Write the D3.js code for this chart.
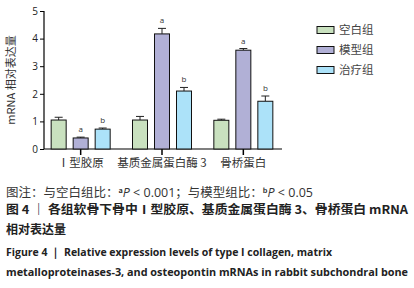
<!DOCTYPE html>
<html><head><meta charset="utf-8">
<script src="https://cdn.jsdelivr.net/npm/d3@7"></script>
<style>body{margin:0;background:#fff}svg{display:block}</style>
</head><body><svg id="c" width="414" height="288"></svg>
<script>
const categories = ["Ⅰ型胶原", "基质金属蛋白酶 3", "骨桥蛋白"];
const groups = ["空白组", "模型组", "治疗组"];
const means = [[1.05, 0.40, 0.72], [1.05, 4.17, 2.10], [1.04, 3.58, 1.73]];
const errs = [[0.10, 0.03, 0.04], [0.13, 0.20, 0.13], [0.04, 0.06, 0.19]];
const marks = [["", "a", "b"], ["", "a", "b"], ["", "a", "b"]];
const yTicks = [0, 1, 2, 3, 4, 5];
const colors = ["#c9e1bf", "#b1b0d6", "#ace2f9"];

const svg = d3.select("#c");
const x0 = d3.scaleBand().domain(categories).range([40, 284]).paddingInner(0.0).paddingOuter(0.0);
const y = d3.scaleLinear().domain([0, 5]).range([149, 11]);
const bw = 15, step = 22;
const CJK = "Noto Sans CJK SC, sans-serif";

const yAxis = svg.append("g").attr("transform", "translate(44,0)")
  .call(d3.axisLeft(y).tickValues(yTicks).tickSize(4).tickFormat(d3.format("d")));
yAxis.select(".domain").attr("stroke", "#000").attr("stroke-width", 1.2).attr("d", "M0,11V149");
yAxis.selectAll("text").attr("font-family", "Open Sans, sans-serif").attr("font-size", 10).attr("fill", "#222").attr("dx", 1);

// x axis
svg.append("line").attr("x1", 44).attr("x2", 282).attr("y1", 149).attr("y2", 149).attr("stroke", "#000").attr("stroke-width", 1.2);

categories.forEach((c, i) => {
  const cx = x0(c) + x0.bandwidth() / 2;
  svg.append("line").attr("x1", cx).attr("x2", cx).attr("y1", 149).attr("y2", 155).attr("stroke", "#000").attr("stroke-width", 1.5);
  svg.append("text").attr("x", cx).attr("y", 167).attr("text-anchor", "middle")
    .attr("font-family", CJK).attr("font-size", 11.5).attr("fill", "#333").text(c);
  groups.forEach((g, j) => {
    const bx = cx + (j - 1) * step - bw / 2;
    const v = means[i][j], e = errs[i][j];
    const mx = bx + bw / 2;
    svg.append("line").attr("x1", mx).attr("x2", mx).attr("y1", y(v)).attr("y2", y(v + e)).attr("stroke", "#222").attr("stroke-width", 1);
    svg.append("line").attr("x1", mx - 4).attr("x2", mx + 4).attr("y1", y(v + e)).attr("y2", y(v + e)).attr("stroke", "#222").attr("stroke-width", 1);
    svg.append("rect").attr("x", bx).attr("y", y(v)).attr("width", bw).attr("height", y(0) - y(v))
      .attr("fill", colors[j]).attr("stroke", "#111").attr("stroke-width", 1);
    if (marks[i][j]) {
      svg.append("text").attr("x", mx).attr("y", y(v + e) - 5).attr("text-anchor", "middle")
        .attr("font-family", "Open Sans, sans-serif").attr("font-size", 8).attr("fill", "#333").text(marks[i][j]);
    }
  });
});

// y label
svg.append("text").attr("transform", "translate(15,80) rotate(-90)").attr("text-anchor", "middle")
  .attr("font-family", CJK).attr("font-size", 11).attr("fill", "#333").text("mRNA 相对表达量");

// legend
groups.forEach((g, j) => {
  const ly = 30 + j * 20;
  svg.append("rect").attr("x", 317).attr("y", ly - 3.5).attr("width", 17).attr("height", 7)
    .attr("fill", colors[j]).attr("stroke", "#111").attr("stroke-width", 1);
  svg.append("text").attr("x", 339).attr("y", ly + 4).attr("font-family", CJK)
    .attr("font-size", 11.5).attr("fill", "#444").text(g);
});

// captions
const cap = svg.append("text").attr("x", 6).attr("y", 197).attr("font-family", CJK).attr("font-size", 12).attr("fill", "#333")
  .attr("textLength", 307).attr("lengthAdjust", "spacingAndGlyphs");
cap.append("tspan").text("图注：与空白组比：");
cap.append("tspan").attr("font-size", 7).attr("dy", -4).attr("font-weight", "bold").text("a");
cap.append("tspan").attr("dy", 4).attr("font-style", "italic").attr("font-family", "Open Sans, sans-serif").text("P");
cap.append("tspan").attr("font-family", "Open Sans, sans-serif").text(" < 0.001");
cap.append("tspan").text("；与模型组比：");
cap.append("tspan").attr("font-size", 7).attr("dy", -4).attr("font-weight", "bold").text("b");
cap.append("tspan").attr("dy", 4).attr("font-style", "italic").attr("font-family", "Open Sans, sans-serif").text("P");
cap.append("tspan").attr("font-family", "Open Sans, sans-serif").text("  < 0.05");

svg.append("text").attr("x", 6).attr("y", 214).attr("font-family", CJK).attr("font-size", 12).attr("font-weight", "bold").attr("fill", "#222")
  .attr("textLength", 402).attr("lengthAdjust", "spacingAndGlyphs").text("图 4 ｜  各组软骨下骨中Ⅰ型胶原、基质金属蛋白酶 3、骨桥蛋白 mRNA");
svg.append("text").attr("x", 6).attr("y", 234).attr("font-family", CJK).attr("font-size", 12).attr("font-weight", "bold").attr("fill", "#222")
  .text("相对表达量");
svg.append("text").attr("x", 6).attr("y", 256).attr("font-family", "Open Sans, sans-serif").attr("font-size", 10.5).attr("font-weight", "bold").attr("fill", "#222")
  .attr("textLength", 326).attr("lengthAdjust", "spacingAndGlyphs").text("Figure 4 ｜ Relative expression levels of type I collagen, matrix");
svg.append("text").attr("x", 6).attr("y", 276).attr("font-family", "Open Sans, sans-serif").attr("font-size", 10.5).attr("font-weight", "bold").attr("fill", "#222")
  .attr("textLength", 402).attr("lengthAdjust", "spacingAndGlyphs").text("metalloproteinases-3, and osteopontin mRNAs in rabbit subchondral bone");
</script></body></html>
